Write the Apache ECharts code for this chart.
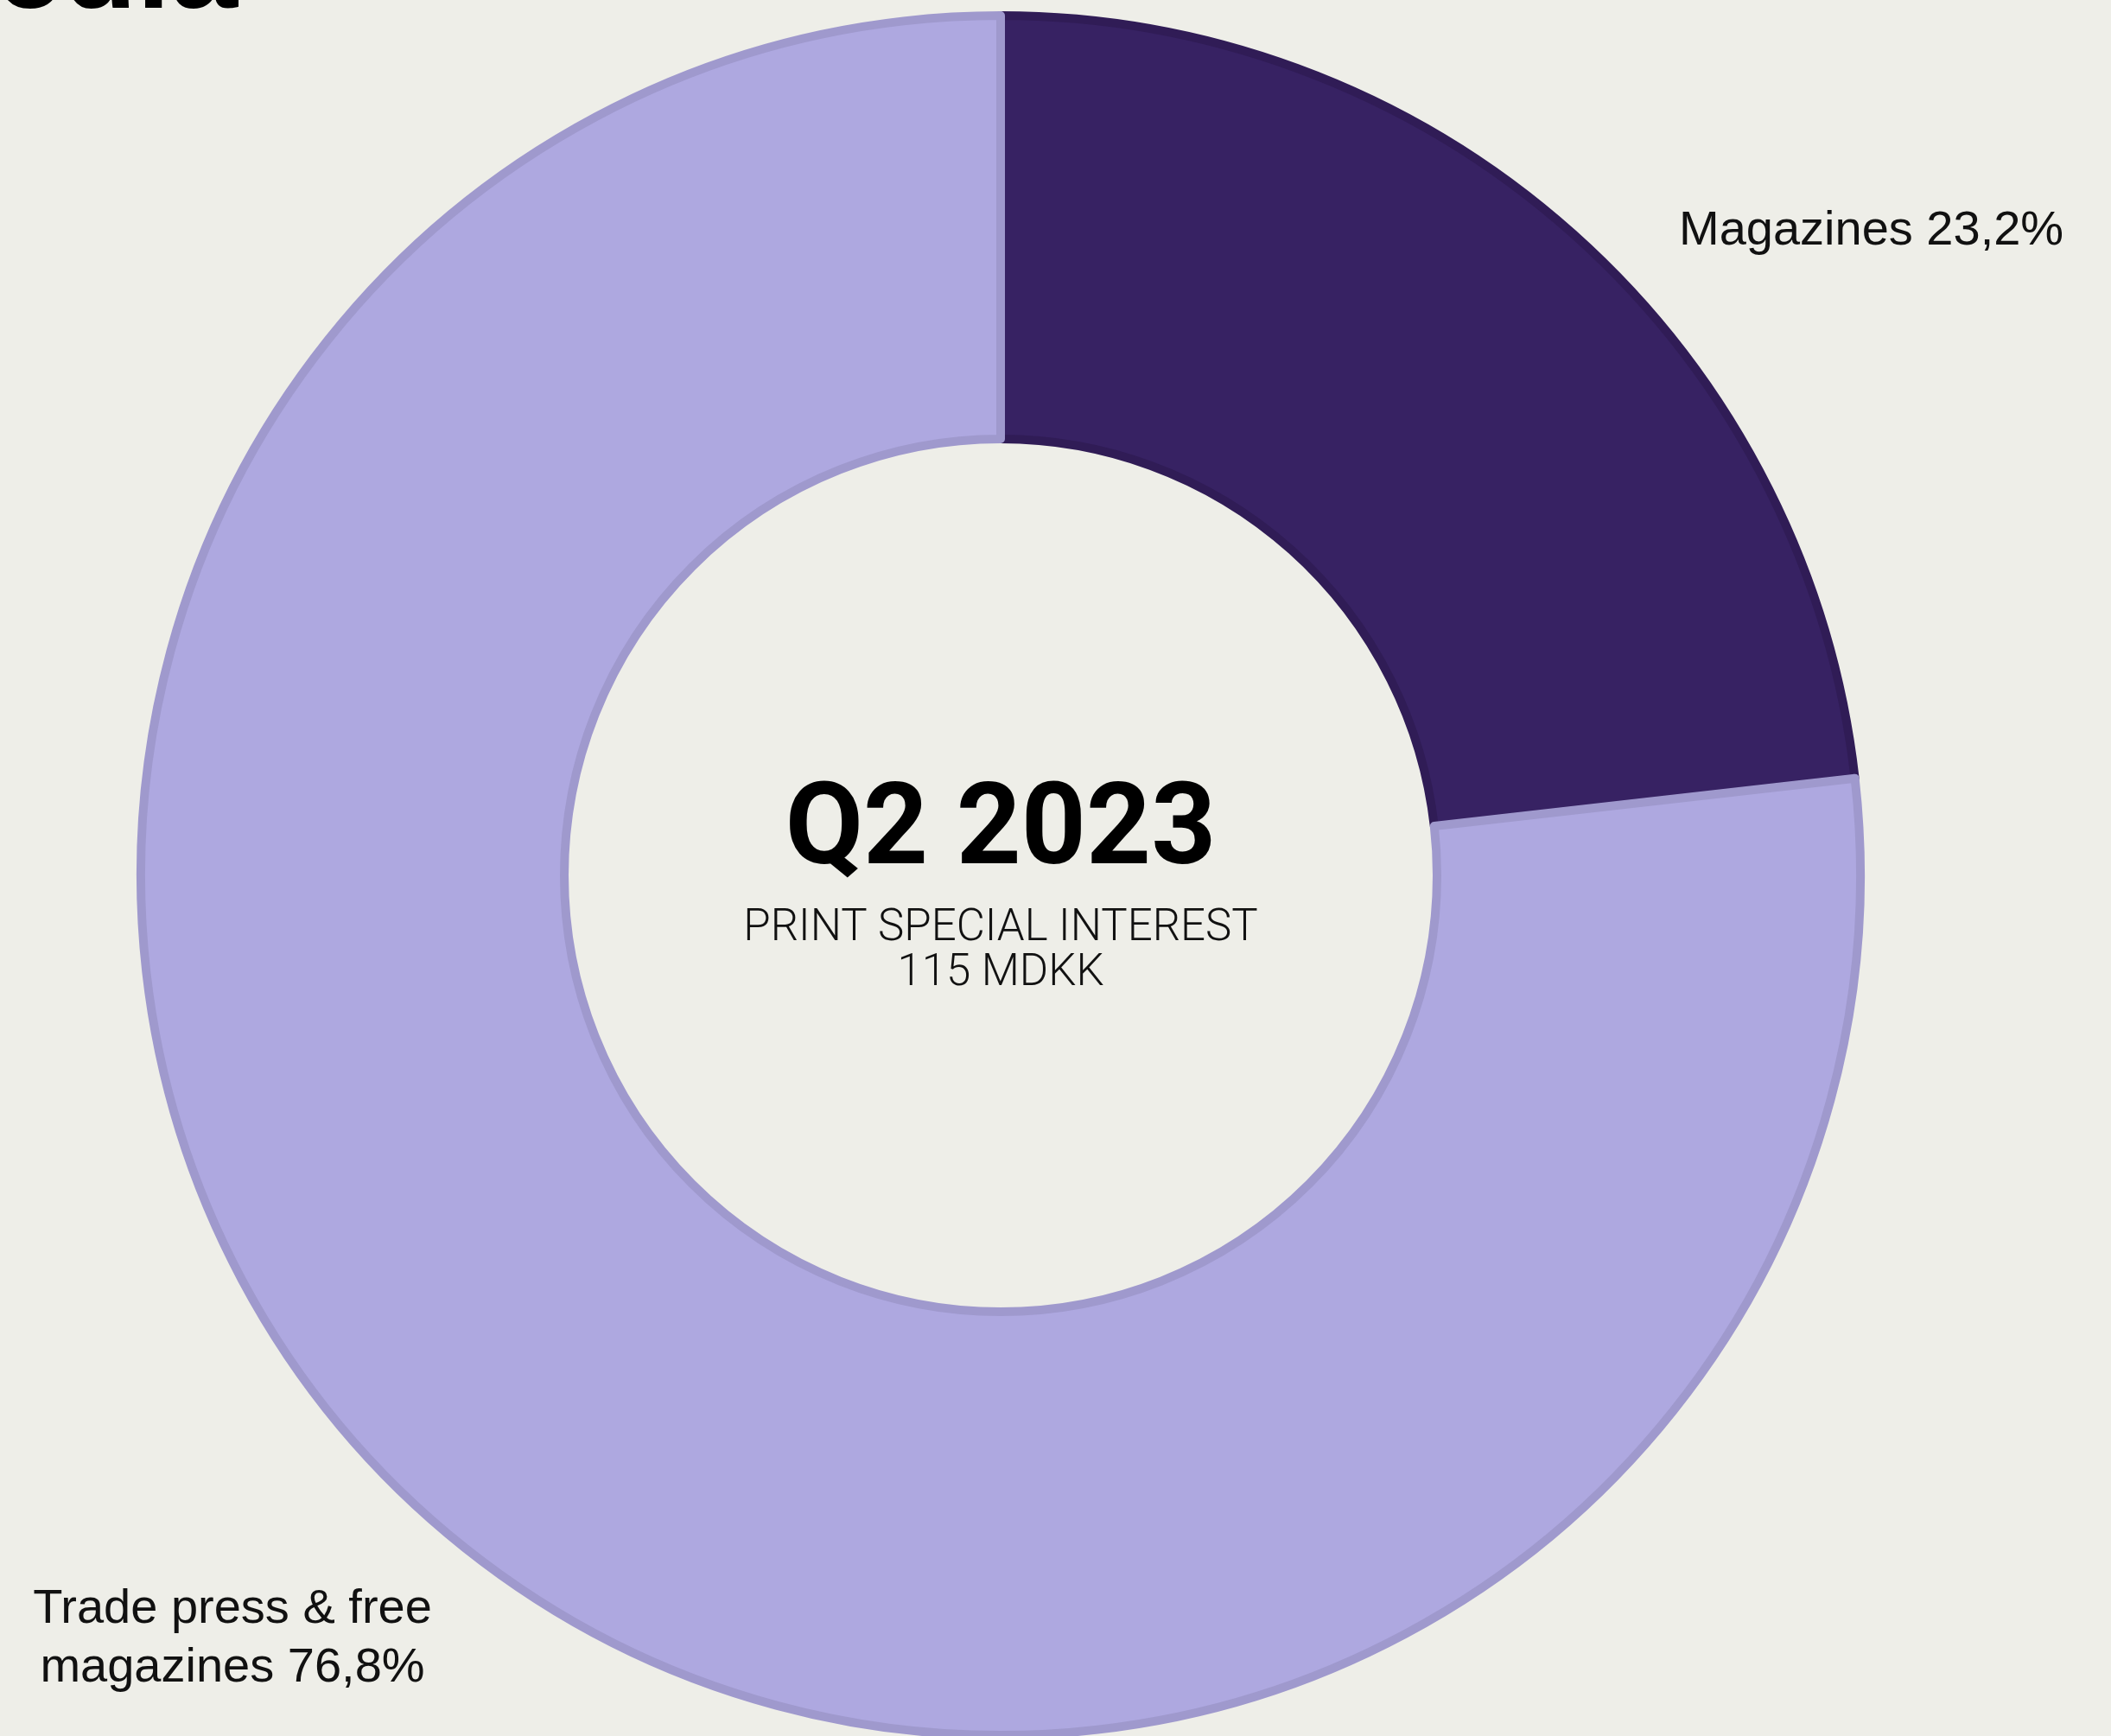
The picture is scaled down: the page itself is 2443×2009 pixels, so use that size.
<!DOCTYPE html>
<html>
<head>
<meta charset="utf-8">
<script src="https://cdn.jsdelivr.net/npm/echarts@6/dist/echarts.min.js"></script>
<style>
  html, body { margin: 0; padding: 0; background: #eeeee8; }
  #chart { width: 2443px; height: 2009px; }
</style>
</head>
<body>
<div id="chart"></div>
<script>
const categories = ['Magazines', 'Trade press & free\nmagazines'];
const shares = [23.2, 76.8];
const fillColors = ['#372263', '#aea8e0'];
const borderColors = ['#301c56', '#9f99cd'];
const titleText = 'Media';
const periodText = 'Q2 2023';
const segmentText = 'PRINT SPECIAL INTEREST';
const totalValue = 115;
const totalUnit = 'MDKK';

const fmtPct = v => v.toFixed(1).replace('.', ',') + '%';

const chart = echarts.init(document.getElementById('chart'), null, { renderer: 'canvas' });

const labelPos = [
  { x: 1943, y: 268, align: 'left', verticalAlign: 'middle' },
  { x: 269, y: 1897, align: 'center', verticalAlign: 'middle' }
];

const option = {
  backgroundColor: '#eeeee8',
  animation: false,
  series: [{
    type: 'pie',
    center: [1158, 1013],
    radius: [505, 995],
    startAngle: 90,
    clockwise: true,
    avoidLabelOverlap: false,
    emphasis: { disabled: true },
    label: {
      show: true,
      position: 'outside',
      formatter: p => p.name + ' ' + fmtPct(p.value),
      fontFamily: 'Liberation Sans',
      fontSize: 56,
      lineHeight: 68,
      color: '#111111',
      align: 'center'
    },
    labelLine: { show: false },
    labelLayout: p => labelPos[p.dataIndex],
    data: categories.map((c, i) => ({
      name: c,
      value: shares[i],
      itemStyle: { color: fillColors[i], borderColor: borderColors[i], borderWidth: 10 }
    }))
  }],
  graphic: [
    {
      type: 'text',
      x: 275, y: -30,
      style: {
        text: titleText,
        font: 'bold 140px "Liberation Sans"',
        fill: '#000000',
        textAlign: 'right',
        textVerticalAlign: 'middle'
      }
    },
    {
      type: 'text',
      x: 1158, y: 966,
      style: {
        text: periodText,
        font: 'bold 131px Roboto',
        fill: '#000000',
        textAlign: 'center',
        textVerticalAlign: 'middle'
      }
    },
    {
      type: 'text',
      x: 1158, y: 1075,
      style: {
        text: segmentText,
        font: '300 51px Roboto',
        fill: '#111111',
        textAlign: 'center',
        textVerticalAlign: 'middle'
      }
    },
    {
      type: 'text',
      x: 1158, y: 1127,
      style: {
        text: totalValue + ' ' + totalUnit,
        font: '300 51px Roboto',
        fill: '#111111',
        textAlign: 'center',
        textVerticalAlign: 'middle'
      }
    }
  ]
};
chart.setOption(option);
</script>
</body>
</html>
